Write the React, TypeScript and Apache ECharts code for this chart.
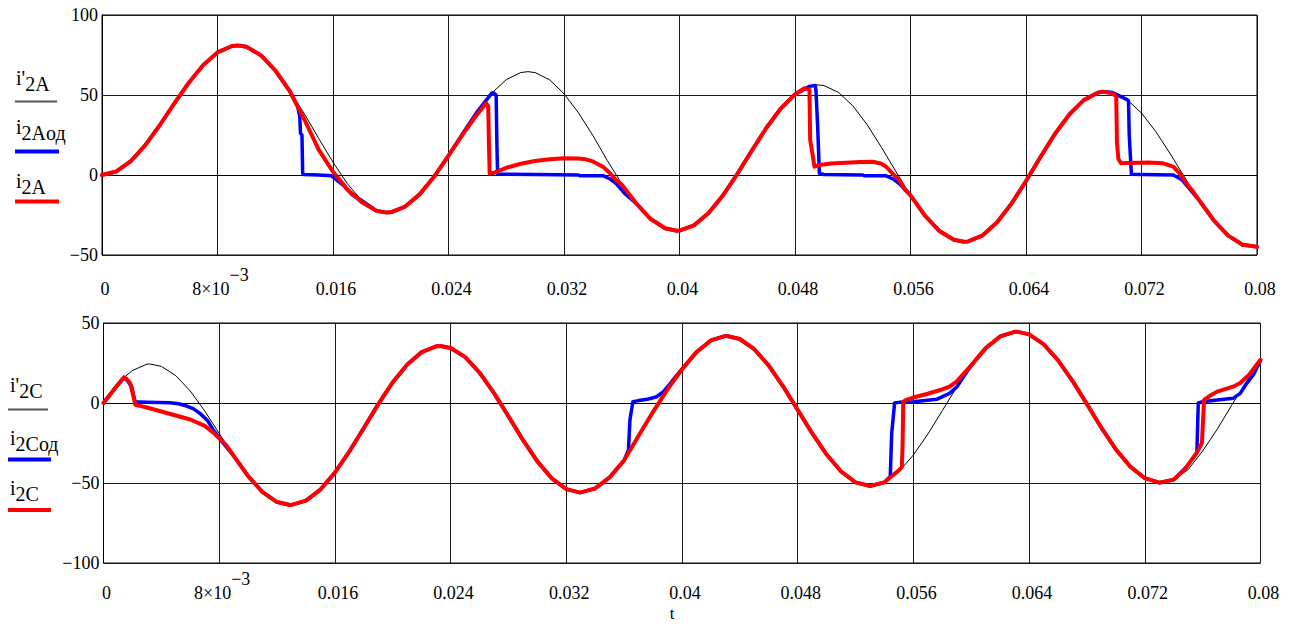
import React, { useEffect, useRef } from 'react';
import * as echarts from 'echarts';

// time in ms
const xLabels = ['0', '8×10', '0.016', '0.024', '0.032', '0.04', '0.048', '0.056', '0.064', '0.072', '0.08'];
const xLabelSup = ['', '−3', '', '', '', '', '', '', '', '', ''];

// ---- top panel: phase A ----
const iA_prime: [number, number][] = [
  [0, 0], [1, 2.2], [2, 8.7], [3, 18.7], [4, 31.1], [5, 44.6], [6, 57.5], [7, 68.6], [8, 76.6], [9, 80.6], [9.4, 81],
  [10, 80.1], [11, 74.9], [12, 65.4], [13, 52.5], [14, 38.5], [15, 23], [16, 8], [17, -5.5], [18, -16], [19, -22.3], [19.7, -23.5],
  [20, -23.3], [21, -19.7], [22, -12.1], [23, -1.1], [24, 12.1], [25, 26.2], [26, 39.7], [27, 51.2], [28, 59.6], [29, 64], [29.5, 64.6],
  [30, 64], [31, 59.5], [32, 50.8], [33, 38.9], [34, 24.7], [35, 9], [36, -5.5], [37, -17.7], [38, -27.5], [39, -33.3], [39.8, -34.8],
  [40, -34.7], [41, -31.5], [42, -23.9], [43, -12.9], [44, 0.6], [45, 15.1], [46, 29.2], [47, 41.4], [48, 50.4], [49, 55.4], [49.6, 56.3],
  [50, 55.9], [51, 51.7], [52, 43.3], [53, 31.4], [54, 17.1], [55, 2], [56, -12.7], [57, -25.4], [58, -35], [59, -40.5], [59.7, -41.7],
  [60, -41.5], [61, -37.7], [62, -29.5], [63, -17.8], [64, -3.8], [65, 11.2], [66, 25.6], [67, 37.8], [68, 46.8], [69, 51.5], [69.5, 52.1],
  [70, 51.5], [71, 47.1], [72, 38.7], [73, 27], [74, 13.1], [75, -1.6], [76, -15.9], [77, -28.3], [78, -37.9], [79, -43.6], [80, -44.9],
];

const iA_od: [number, number][] = [
  [0, 0], [1, 2.2], [2, 8.7], [3, 18.7], [4, 31.1], [5, 44.6], [6, 57.5], [7, 68.6], [8, 76.6], [9, 80.6], [9.4, 81],
  [10, 80.1], [11, 74.9], [12, 65.4], [13, 52.5], [13.56, 42.7], [13.7, 36], [13.75, 26], [13.85, 25], [13.9, 1], [14, 0.3], [15, 0],
  [15.9, -0.5], [16.7, -6.3], [17.35, -12.5], [18, -16], [19, -22.3], [19.7, -23.5],
  [20, -23.3], [21, -19.7], [22, -12.1], [23, -1.1], [24, 12.1], [25, 26.2], [26, 39.7], [27, 51.2], [27.1, 51.5], [27.3, 50],
  [27.35, 20], [27.4, 0.6], [28, 0.5], [30, 0.3], [33, 0], [33.1, -0.4], [34.7, -0.4], [35.2, -2.5], [35.6, -5.2], [36.2, -11.5],
  [37, -17.7], [38, -27.5], [39, -33.3], [39.8, -34.8],
  [40, -34.7], [41, -31.5], [42, -23.9], [43, -12.9], [44, 0.6], [45, 15.1], [46, 29.2], [47, 41.4], [48, 50.4], [49, 55.4], [49.4, 56],
  [49.45, 53], [49.57, 30], [49.69, 1], [50, 0.3], [52.7, 0], [52.8, -0.5], [54.3, -0.5], [54.8, -2.5], [55.2, -5.2], [55.9, -11.5],
  [56, -12.7], [57, -25.4], [58, -35], [59, -40.5], [59.7, -41.7],
  [60, -41.5], [61, -37.7], [62, -29.5], [63, -17.8], [64, -3.8], [65, 11.2], [66, 25.6], [67, 37.8], [68, 46.8], [69, 51.5], [69.5, 52.1],
  [70, 51.5], [71, 47.1], [71.1, 46.3], [71.15, 25], [71.3, 0.5], [72, 0.3], [74.2, 0], [74.3, -0.5], [74.8, -3], [75.3, -8.3],
  [76, -15.9], [77, -28.3], [78, -37.9], [79, -43.6], [80, -44.9],
];

const iA: [number, number][] = [
  [0, 0], [1, 2.2], [2, 8.7], [3, 18.7], [4, 31.1], [5, 44.6], [6, 57.5], [7, 68.6], [8, 76.6], [9, 80.6], [9.4, 81],
  [10, 80.1], [11, 74.9], [12, 65.4], [13, 52.5], [14, 35], [15, 16], [16, 2], [17, -9], [18, -17], [19, -22.3], [19.7, -23.5],
  [20, -23.3], [21, -19.7], [22, -12.1], [23, -1.1], [24, 12.1], [25, 25.5], [26, 38], [26.6, 44.8], [26.75, 43], [26.8, 20], [26.85, 1],
  [27.1, 1.2], [28, 4.5], [29, 7], [30, 8.7], [31, 9.8], [32, 10.4], [33, 10.3], [33.5, 9.8], [34, 8.5], [34.7, 5.2], [35.2, 1],
  [35.6, -3.1], [36, -6], [37, -17.7], [38, -27.5], [39, -33.3], [39.8, -34.8],
  [40, -34.7], [41, -31.5], [42, -23.9], [43, -12.9], [44, 0.6], [45, 15.1], [46, 29.2], [47, 41.4], [48, 50.4], [48.65, 54.2],
  [49, 53.5], [49.05, 22], [49.35, 5.2], [49.7, 6.3], [50.5, 7.2], [51.5, 7.7], [52.5, 8.2], [53.4, 8.3], [54, 7], [54.3, 5.2],
  [54.7, 1.5], [55.2, -3.1], [55.6, -9], [56, -12.7], [57, -25.4], [58, -35], [59, -40.5], [59.7, -41.7],
  [60, -41.5], [61, -37.7], [62, -29.5], [63, -17.8], [64, -3.8], [65, 11.2], [66, 25.6], [67, 37.8], [68, 46.8], [69, 51.5], [69.3, 52.1],
  [70, 51], [70.25, 49], [70.3, 20], [70.4, 10], [70.6, 7.3], [71, 7.5], [71.85, 7.7], [72.5, 7.8], [73.5, 7.3], [74.2, 5.2],
  [74.7, 0.5], [75.1, -5.2], [75.5, -9.5], [76, -15.9], [77, -28.3], [78, -37.9], [79, -43.6], [80, -44.9],
];

// ---- bottom panel: phase C ----
const iC_prime: [number, number][] = [
  [0, 0], [1, 11.5], [1.42, 16], [2, 20.3], [3, 24.3], [3.2, 24.4], [4, 22.9], [5, 17.1], [6, 7.5], [7, -5], [8, -19], [9, -33],
  [10, -45.7], [11, -55.7], [12, -61.9], [12.9, -63.75], [13, -63.7], [14, -61], [15, -54.1], [16, -43.5], [17, -30.3], [18, -15.6], [19, -0.7],
  [20, 12.9], [21, 24], [22, 31.8], [23, 35.4], [23.3, 35.6], [24, 34.4], [25, 28.8], [26, 19], [27, 6.2], [28, -8.3], [29, -23.1],
  [30, -36.5], [31, -47.1], [32, -53.8], [32.95, -56], [34, -53.4], [35, -46.5], [36, -35.8], [37, -20.5], [38, -5.5], [39, 8.5],
  [40, 21.1], [41, 31.8], [42, 39.1], [43, 41.9], [43.1, 41.9], [44, 40], [45, 33.6], [46, 23.4], [47, 10.3], [48, -4.3], [49, -18.9],
  [50, -32.2], [51, -42.8], [52, -49.6], [53, -51.9], [54, -49.6], [55, -42.9], [56, -32.5], [57, -19.4], [58, -4.8], [59, 10],
  [60, 23.5], [61, 34.3], [62, 41.6], [63, 44.5], [63.15, 44.6], [64, 42.9], [65, 36.8], [66, 26.7], [67, 13.8], [68, -0.7], [69, -15.5],
  [70, -29], [71, -39.8], [72, -47], [73, -49.8], [74, -47.9], [75, -41.6], [76, -30], [77, -16.5], [78, -1.5], [79, 13], [80, 26.5],
];

const iC_od: [number, number][] = [
  [0, 0], [1, 11.5], [1.42, 16], [1.7, 13.5], [1.95, 10.2], [2.18, 0.8], [3, 0.5], [4.6, 0.2], [5.2, -0.5], [5.75, -1.9], [6.2, -3.5],
  [6.67, -6.5], [7.2, -11], [7.6, -16.9], [8.1, -23], [9, -33],
  [10, -45.7], [11, -55.7], [12, -61.9], [12.9, -63.75], [13, -63.7], [14, -61], [15, -54.1], [16, -43.5], [17, -30.3], [18, -15.6], [19, -0.7],
  [20, 12.9], [21, 24], [22, 31.8], [23, 35.4], [23.3, 35.6], [24, 34.4], [25, 28.8], [26, 19], [27, 6.2], [28, -8.3], [29, -23.1],
  [30, -36.5], [31, -47.1], [32, -53.8], [32.95, -56], [34, -53.4], [35, -46.5], [36, -35.8], [36.3, -29.4], [36.4, -10.6], [36.6, 0.8],
  [37, 1.5], [37.6, 2.3], [38.25, 3.9], [38.7, 7], [39.2, 12.3], [39.6, 17],
  [40, 21.1], [41, 31.8], [42, 39.1], [43, 41.9], [43.1, 41.9], [44, 40], [45, 33.6], [46, 23.4], [47, 10.3], [48, -4.3], [49, -18.9],
  [50, -32.2], [51, -42.8], [52, -49.6], [53, -51.9], [54, -49.6], [54.4, -46], [54.5, -19], [54.7, 0], [55, 0.4], [56, 0.8], [57.6, 2.3],
  [58.5, 6], [59, 10], [59.5, 16.8],
  [60, 23.5], [61, 34.3], [62, 41.6], [63, 44.5], [63.15, 44.6], [64, 42.9], [65, 36.8], [66, 26.7], [67, 13.8], [68, -0.7], [69, -15.5],
  [70, -29], [71, -39.8], [72, -47], [73, -49.8], [74, -47.9], [74.9, -39.8], [75.6, -31], [75.65, -15], [75.7, 0], [76, 0.8], [77, 1.9],
  [78.1, 2.9], [78.6, 6], [79.05, 12.3], [79.5, 17.5], [80, 26.5],
];

const iC: [number, number][] = [
  [0, 0], [1, 11.5], [1.42, 16], [1.6, 15], [1.85, 12.3], [2.1, 3], [2.2, -1.2], [3, -2.8], [4, -5.3], [5, -7.8], [6, -10.3], [7, -14.3],
  [7.6, -18.5], [8, -22], [8.5, -26.5], [9, -33],
  [10, -45.7], [11, -55.7], [12, -61.9], [12.9, -63.75], [13, -63.7], [14, -61], [15, -54.1], [16, -43.5], [17, -30.3], [18, -15.6], [19, -0.7],
  [20, 12.9], [21, 24], [22, 31.8], [23, 35.4], [23.3, 35.6], [24, 34.4], [25, 28.8], [26, 19], [27, 6.2], [28, -8.3], [29, -23.1],
  [30, -36.5], [31, -47.1], [32, -53.8], [32.95, -56], [34, -53.4], [35, -46.5], [36, -35.8], [37, -20.5], [38, -5.5], [39, 8.5],
  [40, 21.1], [41, 31.8], [42, 39.1], [43, 41.9], [43.1, 41.9], [44, 40], [45, 33.6], [46, 23.4], [47, 10.3], [48, -4.3], [49, -18.9],
  [50, -32.2], [51, -42.8], [52, -49.6], [53, -51.9], [54, -49.6], [54.2, -48], [55, -42], [55.2, -40], [55.25, -27], [55.3, 0.8],
  [55.5, 2], [56.2, 3.9], [57, 5.8], [57.85, 8.1], [58.5, 10.2], [59, 13.5], [59.5, 18.5],
  [60, 23.5], [61, 34.3], [62, 41.6], [63, 44.5], [63.15, 44.6], [64, 42.9], [65, 36.8], [66, 26.7], [67, 13.8], [68, -0.7], [69, -15.5],
  [70, -29], [71, -39.8], [72, -47], [73, -49.8], [74, -47.9], [74.7, -42], [75, -38.5], [75.6, -31], [75.95, -25], [76.1, 1.9],
  [76.5, 4.5], [77, 7.1], [77.5, 8.5], [78.1, 10.2], [78.6, 12.5], [79.2, 17.5], [80, 27],
];

const SERIF = 'Liberation Serif, DejaVu Serif, serif';

function xAxisCfg(gridIndex: number, margin: number) {
  return {
    type: 'value',
    gridIndex,
    min: 0,
    max: 80,
    interval: 8,
    axisLine: { show: true, lineStyle: { color: '#000', width: 1 } },
    axisTick: { show: false },
    splitLine: { show: true, lineStyle: { color: '#1a1a1a', width: 1 } },
    axisLabel: {
      margin,
      fontFamily: SERIF,
      fontSize: 18,
      color: '#000',
      formatter: (v: number) => {
        const i = Math.round(v / 8);
        return `{m|${xLabels[i]}}` + (xLabelSup[i] ? `{s|${xLabelSup[i]}}` : '');
      },
      rich: {
        m: { fontFamily: SERIF, fontSize: 18, color: '#000', lineHeight: 16, padding: [14, 0, 0, 6] },
        s: { fontFamily: SERIF, fontSize: 18, color: '#000', lineHeight: 16, padding: [0, 0, 14, 0] },
      },
    },
  };
}

function yAxisCfg(gridIndex: number, min: number, max: number) {
  return {
    type: 'value',
    gridIndex,
    min,
    max,
    interval: 50,
    axisLine: { show: true, lineStyle: { color: '#000', width: 1 } },
    axisTick: { show: false },
    splitLine: { show: true, lineStyle: { color: '#1a1a1a', width: 1 } },
    axisLabel: {
      margin: 4,
      fontFamily: SERIF,
      fontSize: 18,
      color: '#000',
      formatter: (v: number) => (v < 0 ? '\u2212' + Math.abs(v) : String(v)),
    },
  };
}

function line(data: [number, number][], idx: number, color: string, width: number, z: number) {
  return {
    type: 'line',
    xAxisIndex: idx,
    yAxisIndex: idx,
    data,
    showSymbol: false,
    symbol: 'none',
    silent: true,
    z,
    lineStyle: { color, width, join: 'round', cap: 'round' },
  };
}

function legendText(x: number, y: number, main: string, sub: string) {
  return {
    type: 'text',
    x,
    y,
    silent: true,
    style: {
      text: `{i|${main}}{s|${sub}}`,
      verticalAlign: 'middle',
      fill: '#000',
      fontFamily: SERIF,
      fontSize: 20,
      rich: {
        i: { fontFamily: SERIF, fontSize: 20, fill: '#000', color: '#000', lineHeight: 21, padding: [0, 0, 6, 0] },
        s: { fontFamily: SERIF, fontSize: 20, fill: '#000', color: '#000', lineHeight: 21, padding: [6, 0, 0, 0] },
      },
    },
  };
}

function legendLine(x1: number, x2: number, y: number, color: string, w: number) {
  return { type: 'line', silent: true, shape: { x1, y1: y, x2, y2: y }, style: { stroke: color, lineWidth: w } };
}

export default function App() {
  const ref = useRef<HTMLDivElement>(null);
  useEffect(() => {
    if (!ref.current) return;
    const chart = echarts.init(ref.current, null, { renderer: 'svg' });
    chart.setOption({
      animation: false,
      backgroundColor: '#fff',
      textStyle: { fontFamily: SERIF },
      grid: [
        { left: 102, top: 15, width: 1155, height: 240, show: true, borderColor: '#000', borderWidth: 1 },
        { left: 103.5, top: 323, width: 1157, height: 240, show: true, borderColor: '#000', borderWidth: 1 },
      ],
      xAxis: [xAxisCfg(0, 19), xAxisCfg(1, 15)],
      yAxis: [yAxisCfg(0, -50, 100), yAxisCfg(1, -100, 50)],
      series: [
        line(iA_prime, 0, '#000000', 1, 2),
        line(iA_od, 0, '#0000ff', 3.5, 3),
        line(iA, 0, '#ff0000', 4, 4),
        line(iC_prime, 1, '#000000', 1, 2),
        line(iC_od, 1, '#0000ff', 3.5, 3),
        line(iC, 1, '#ff0000', 4, 4),
      ],
      graphic: [
        legendText(16, 80.5, "i'", '2A'),
        legendLine(15, 57, 101.5, '#555', 2),
        legendText(16, 130, 'i', '2Aод'),
        legendLine(15, 59, 151.5, '#0000ff', 4),
        legendText(16, 183.5, 'i', '2A'),
        legendLine(15, 59, 201.5, '#ff0000', 4),
        legendText(10, 388, "i'", '2C'),
        legendLine(8, 48, 409.5, '#555', 2),
        legendText(10, 441, 'i', '2Cод'),
        legendLine(8, 51, 459.5, '#0000ff', 4),
        legendText(10, 491, 'i', '2C'),
        legendLine(8, 51, 510, '#ff0000', 4),
        {
          type: 'text',
          x: 672,
          y: 613,
          silent: true,
          style: { text: 't', fontFamily: SERIF, fontSize: 17, fill: '#000', align: 'center', verticalAlign: 'middle' },
        },
      ],
    });
    return () => chart.dispose();
  }, []);
  return (
    <div
      ref={ref}
      style={{ position: 'fixed', left: 0, top: 0, width: 1293, height: 634, background: '#fff' }}
    />
  );
}
